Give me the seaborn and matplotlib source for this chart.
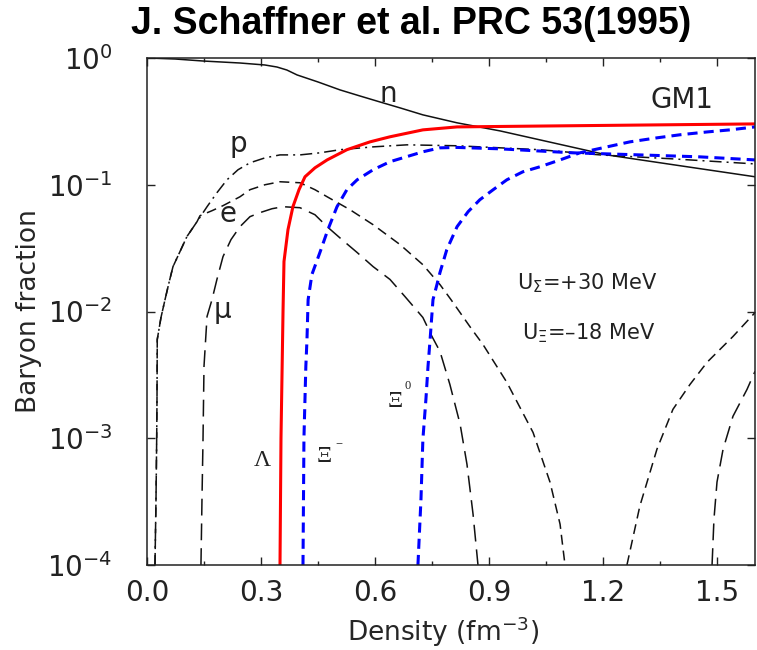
import matplotlib
matplotlib.use("Agg")
import matplotlib.pyplot as plt
import seaborn as sns
from matplotlib.ticker import MultipleLocator, NullLocator, LogFormatterSciNotation

# ---------------- data ----------------
x_n = [0.0, 0.074, 0.147, 0.245, 0.31, 0.342, 0.368, 0.395, 0.45, 0.508, 0.56, 0.613, 0.666,
       0.726, 0.816, 0.929, 1.034, 1.21, 1.384, 1.6]
y_n = [1.0, 0.982, 0.947, 0.913, 0.881, 0.849, 0.804, 0.735, 0.647, 0.56, 0.502, 0.45, 0.404,
       0.356, 0.308, 0.266, 0.226, 0.172, 0.144, 0.1156]

x_p = [0.021, 0.0237, 0.0255, 0.0263, 0.027, 0.0368, 0.0474, 0.0579, 0.0684, 0.0868, 0.105,
       0.1316, 0.158, 0.184, 0.2105, 0.2395, 0.271, 0.3105, 0.35, 0.4026, 0.455, 0.508, 0.595,
       0.684, 0.816, 1.034, 1.192, 1.384, 1.6]
y_p = [1e-4, 0.000331, 0.001, 0.00203, 0.00602, 0.00897, 0.0124, 0.0169, 0.0226, 0.0297, 0.039,
       0.0511, 0.0671, 0.0865, 0.1094, 0.1313, 0.149, 0.163, 0.172, 0.172, 0.1786, 0.189, 0.199,
       0.2065, 0.203, 0.189, 0.172, 0.160, 0.146]

x_e = [0.021, 0.0237, 0.0255, 0.0263, 0.027, 0.0368, 0.0474, 0.0579, 0.0684, 0.0868, 0.105,
       0.1316, 0.1395, 0.171, 0.2, 0.2447, 0.271, 0.3105, 0.35, 0.4026, 0.442, 0.474, 0.534,
       0.595, 0.666, 0.726, 0.771, 0.8, 0.855, 0.884, 0.947, 1.016, 1.0605, 1.087, 1.1]
y_e = [1e-4, 0.000331, 0.001, 0.00203, 0.00602, 0.00897, 0.0124, 0.0169, 0.0226, 0.0297, 0.039,
       0.0511, 0.057, 0.0624, 0.0684, 0.0804, 0.0914, 0.1, 0.1056, 0.1037, 0.0914, 0.0804, 0.0636,
       0.0484, 0.0337, 0.0234, 0.0163, 0.0124, 0.00722, 0.0055, 0.00276, 0.00111, 0.000451,
       0.00021, 1e-4]

x_mu = [0.142, 0.1447, 0.1474, 0.15, 0.158, 0.171, 0.184, 0.2, 0.221, 0.2447, 0.271, 0.297,
        0.329, 0.358, 0.4026, 0.442, 0.474, 0.513, 0.553, 0.595, 0.6395, 0.679, 0.726, 0.75,
        0.771, 0.797, 0.824, 0.842, 0.858, 0.871]
y_mu = [1e-4, 0.000331, 0.00098, 0.00369, 0.00914, 0.0124, 0.0179, 0.0271, 0.0369, 0.0467,
        0.056, 0.0602, 0.0647, 0.0671, 0.0659, 0.058, 0.0467, 0.0369, 0.0292, 0.0226, 0.0179,
        0.0131, 0.00897, 0.00635, 0.00484, 0.00266, 0.00129, 0.000624, 0.000252, 1e-4]

x_e2 = [1.263, 1.297, 1.342, 1.384, 1.429, 1.474, 1.542, 1.6]
y_e2 = [1e-4, 0.000292, 0.00082, 0.00169, 0.00266, 0.00398, 0.00635, 0.0098]

x_mu2 = [1.487, 1.492, 1.5, 1.516, 1.542, 1.579, 1.6]
y_mu2 = [1e-4, 0.00023, 0.000451, 0.00082, 0.00149, 0.00243, 0.00337]

x_lam = [0.35, 0.3526, 0.358, 0.3605, 0.371, 0.384, 0.40, 0.4158, 0.442, 0.474, 0.526, 0.587,
         0.6395, 0.726, 0.816, 1.06, 1.6]
y_lam = [1e-4, 1e-3, 0.0102, 0.0248, 0.0442, 0.0671, 0.0914, 0.1156, 0.136, 0.157, 0.189, 0.218,
         0.239, 0.271, 0.286, 0.291, 0.302]

x_xim = [0.4105, 0.413, 0.418, 0.421, 0.424, 0.434, 0.455, 0.476, 0.5, 0.526, 0.553, 0.595,
         0.6395, 0.726, 0.771, 0.816, 0.929, 1.121, 1.297, 1.455, 1.6]
y_xim = [1e-4, 1e-3, 0.00369, 0.00602, 0.0124, 0.0196, 0.0292, 0.0442, 0.0671, 0.0914, 0.1094,
         0.1313, 0.152, 0.182, 0.1955, 0.197, 0.192, 0.1786, 0.172, 0.166, 0.157]

x_xi0 = [0.713, 0.721, 0.726, 0.734, 0.7395, 0.745, 0.7526, 0.763, 0.771, 0.789, 0.816, 0.845,
         0.876, 0.911, 0.947, 0.989, 1.034, 1.087, 1.139, 1.2105, 1.271, 1.342, 1.403, 1.474,
         1.534, 1.6]
y_xi0 = [1e-4, 0.000331, 0.00098, 0.00203, 0.00369, 0.00602, 0.0124, 0.0163, 0.0203, 0.0308,
         0.0467, 0.0613, 0.0762, 0.0914, 0.1094, 0.1265, 0.1386, 0.157, 0.1786, 0.199, 0.218,
         0.2345, 0.248, 0.261, 0.271, 0.286]

x_ticks = [0.0, 0.3, 0.6, 0.9, 1.2, 1.5]
y_ticks = [1e-4, 1e-3, 1e-2, 1e-1, 1e0]

# ---------------- style ----------------
sns.set_style("ticks")
plt.rcParams.update({
    "font.family": ["DejaVu Sans"],
    "mathtext.fontset": "dejavusans",
    "xtick.direction": "in",
    "ytick.direction": "in",
    "xtick.top": True,
    "ytick.right": True,
    "axes.edgecolor": "#222222",
    "axes.linewidth": 1.1,
    "text.color": "#222222",
    "xtick.color": "#222222",
    "ytick.color": "#222222",
})

fig = plt.figure(figsize=(7.57, 6.5), dpi=100)
W, H = 757, 650
ax = fig.add_axes([147 / W, 1 - 565 / H, 608 / W, 507 / H])

black = "#111111"
lw_k = 1.1
common = dict(ax=ax, estimator=None, sort=False)
sns.lineplot(x=x_n, y=y_n, color=black, linewidth=lw_k, **common)
sns.lineplot(x=x_p, y=y_p, color=black, linewidth=lw_k, linestyle=(0, (7.9, 3.3, 1.3, 3.3)), **common)
sns.lineplot(x=x_e, y=y_e, color=black, linewidth=lw_k, linestyle=(0, (6.5, 3.9)), **common)
sns.lineplot(x=x_e2, y=y_e2, color=black, linewidth=lw_k, linestyle=(0, (6.5, 3.9)), **common)
sns.lineplot(x=x_mu, y=y_mu, color=black, linewidth=lw_k, linestyle=(0, (11, 5.2)), **common)
sns.lineplot(x=x_mu2, y=y_mu2, color=black, linewidth=lw_k, linestyle=(0, (11, 5.2)), **common)
sns.lineplot(x=x_lam, y=y_lam, color="#ff0000", linewidth=2.2, **common)
sns.lineplot(x=x_xim, y=y_xim, color="#0000ff", linewidth=2.2, linestyle=(0, (3.3, 2.0)), **common)
sns.lineplot(x=x_xi0, y=y_xi0, color="#0000ff", linewidth=2.2, linestyle=(0, (3.3, 2.0)), **common)

ax.set_yscale("log")
ax.set_xlim(0, 1.6)
ax.set_ylim(1e-4, 1.0)
ax.set_xticks(x_ticks)
ax.set_xticklabels([f"{v:.1f}" for v in x_ticks])
ax.xaxis.set_minor_locator(MultipleLocator(0.15))
ax.set_yticks(y_ticks)
ax.yaxis.set_major_formatter(LogFormatterSciNotation())
ax.yaxis.set_minor_locator(NullLocator())
ax.tick_params(axis="both", which="major", length=5.8, width=1.0, labelsize=20)
ax.tick_params(axis="both", which="minor", length=3.2, width=1.0)
ax.tick_params(axis="x", which="major", pad=10)
ax.tick_params(axis="y", which="major", pad=25)

ax.set_xlabel(r"Density (fm$^{-3}$)", fontsize=19)
ax.set_ylabel("Baryon fraction", fontsize=19)
ax.xaxis.set_label_coords(0.487, -0.097)
ax.yaxis.set_label_coords(-0.172, 0.5)


def px(xp, yp):
    """pixel position in the reference -> data coordinates (for label placement)"""
    return (xp - 147) / 380, 10 ** (-(yp - 58) / 127)


# curve labels
ax.text(*px(388, 102), "n", fontsize=20, ha="center", va="baseline")
ax.text(*px(682, 108), "GM1", fontsize=20, ha="center", va="baseline")
ax.text(*px(238, 152), "p", fontsize=20, ha="center", va="baseline")
ax.text(*px(228, 222), "e", fontsize=20, ha="center", va="baseline")
ax.text(*px(222, 319), "μ", fontsize=20, ha="center", va="baseline")
ax.text(*px(262, 467), "Λ", fontsize=17, ha="center", va="baseline", family="Liberation Serif")
ax.text(*px(324, 457), "Ξ", fontsize=17, ha="center", va="center", family="Liberation Serif")
ax.text(*px(339, 446), "−", fontsize=9, ha="center", va="center", family="Liberation Serif")
ax.text(*px(395, 402), "Ξ", fontsize=17, ha="center", va="center", family="Liberation Serif")
ax.text(*px(408, 387), "0", fontsize=9, ha="center", va="center", family="Liberation Serif")
ax.text(*px(517, 290), r"U$_\Sigma$=+30 MeV", fontsize=15, ha="left", va="baseline")
ax.text(*px(522, 340), r"U$_\Xi$=–18 MeV", fontsize=15, ha="left", va="baseline")

fig.text(411 / W, 1 - 34 / H, "J. Schaffner et al. PRC 53(1995)", fontsize=27,
         fontweight="bold", family="Liberation Sans", color="black", ha="center", va="baseline")

fig.savefig("out.png", dpi=100)
